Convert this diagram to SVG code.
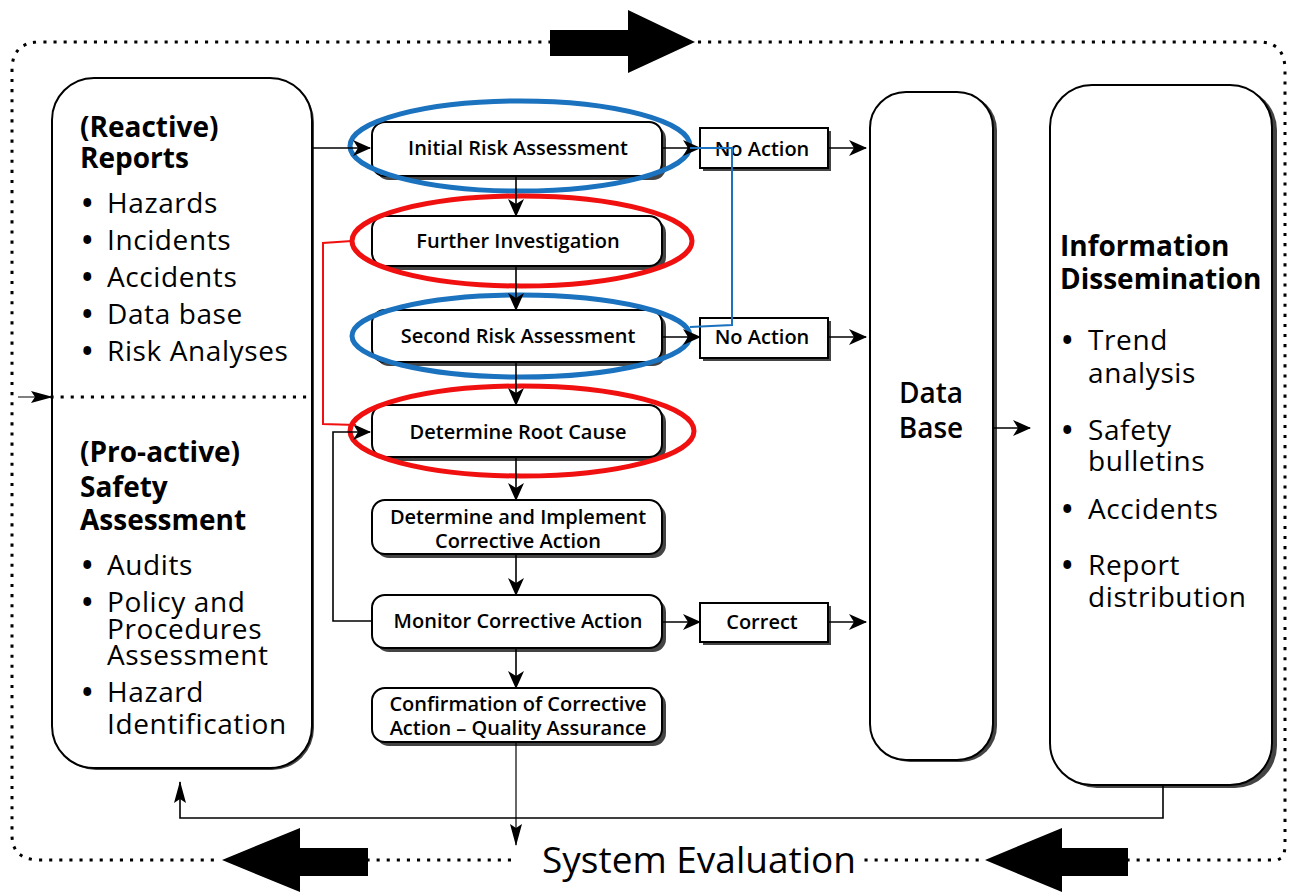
<svg xmlns="http://www.w3.org/2000/svg" width="1290" height="892" viewBox="0 0 1290 892">
<style>
text{font-family:"Open Sans","Liberation Sans",sans-serif;fill:#000}
.big{font-size:28px;letter-spacing:0.6px}
.bul{font-weight:700}
.bold{font-size:28px;font-weight:700}
.mid{font-size:20px;font-weight:600}
.box{fill:#fff;stroke:#000;stroke-width:2}
.shadow{fill:#444}
.line{fill:none;stroke:#000;stroke-width:1.6}
.thin{fill:none;stroke:#000;stroke-width:1.2}
.dots{fill:none;stroke:#000;stroke-width:3;stroke-dasharray:0.1 10;stroke-linecap:square}
.blue{fill:none;stroke:#1b72be;stroke-width:5}
.red{fill:none;stroke:#f01010;stroke-width:5}
.bline{fill:none;stroke:#1b72be;stroke-width:2}
.rline{fill:none;stroke:#f01010;stroke-width:2}
</style>
<defs>
<marker id="ah" viewBox="0 0 18 16" refX="17" refY="8" markerWidth="18" markerHeight="16" orient="auto" markerUnits="userSpaceOnUse">
<path d="M0,0 L18,8 L0,16 L5,8 z" fill="#000"/>
</marker>
<marker id="as" viewBox="0 0 22 12" refX="21" refY="6" markerWidth="22" markerHeight="12" orient="auto" markerUnits="userSpaceOnUse">
<path d="M0,0 L22,6 L0,12 L4,6 z" fill="#000"/>
</marker>
</defs>
<rect width="1290" height="892" fill="#fff"/>

<!-- outer dotted loop and big arrows -->
<g id="outer-loop">
<path class="dots" d="M550,42 H40 Q12,42 12,70 V835 Q12,860 40,860 H222"/>
<path class="dots" d="M368,860 H515"/>
<path class="dots" d="M866,860 H985"/>
<path class="dots" d="M1128,860 H1275 Q1285,860 1285,845 V70 Q1285,44 1262,42 H695"/>
<polygon points="550,30 628,30 628,10 695,42 628,73 628,56 550,56" fill="#000"/>
<polygon points="368,848 300,848 300,828 222,860 300,892 300,876 368,876" fill="#000"/>
<polygon points="1128,848 1062,848 1062,828 985,860 1062,892 1062,876 1128,876" fill="#000"/>
<text x="699" y="873" font-size="37" text-anchor="middle">System Evaluation</text>
</g>

<!-- left box -->
<g id="reports-box">
<rect x="54" y="80" width="260" height="690" rx="42" class="shadow"/>
<rect x="52" y="78" width="260" height="690" rx="42" class="box"/>
<line x1="52" y1="397" x2="312" y2="397" class="dots" stroke-width="2.5"/>
<text class="bold" x="80" y="137">(Reactive)<tspan x="80" y="168">Reports</tspan></text>
<text class="big" x="82" y="213"><tspan class="bul">•</tspan><tspan x="107">Hazards</tspan></text>
<text class="big" x="82" y="250"><tspan class="bul">•</tspan><tspan x="107">Incidents</tspan></text>
<text class="big" x="82" y="287"><tspan class="bul">•</tspan><tspan x="107">Accidents</tspan></text>
<text class="big" x="82" y="324"><tspan class="bul">•</tspan><tspan x="107">Data base</tspan></text>
<text class="big" x="82" y="361"><tspan class="bul">•</tspan><tspan x="107">Risk Analyses</tspan></text>
<text class="bold" x="80" y="462">(Pro-active)<tspan x="80" y="497">Safety</tspan><tspan x="80" y="530">Assessment</tspan></text>
<text class="big" x="82" y="575"><tspan class="bul">•</tspan><tspan x="107">Audits</tspan></text>
<text class="big" x="82" y="612"><tspan class="bul">•</tspan><tspan x="107">Policy and</tspan><tspan x="107" y="639">Procedures</tspan><tspan x="107" y="665">Assessment</tspan></text>
<text class="big" x="82" y="702"><tspan class="bul">•</tspan><tspan x="107">Hazard</tspan><tspan x="107" y="734">Identification</tspan></text>
</g>

<!-- middle flow nodes -->
<g id="initial-risk">
<rect x="376" y="126" width="290" height="54" rx="13" class="shadow"/>
<rect x="372" y="122" width="290" height="54" rx="13" class="box"/>
<text class="mid" x="518" y="155" text-anchor="middle">Initial Risk Assessment</text>
</g>
<g id="further-investigation">
<rect x="376" y="220" width="290" height="50" rx="13" class="shadow"/>
<rect x="372" y="216" width="290" height="50" rx="13" class="box"/>
<text class="mid" x="518" y="248" text-anchor="middle">Further Investigation</text>
</g>
<g id="second-risk">
<rect x="376" y="314" width="290" height="52" rx="13" class="shadow"/>
<rect x="372" y="310" width="290" height="52" rx="13" class="box"/>
<text class="mid" x="518" y="343" text-anchor="middle">Second Risk Assessment</text>
</g>
<g id="root-cause">
<rect x="376" y="409" width="290" height="52" rx="13" class="shadow"/>
<rect x="372" y="405" width="290" height="52" rx="13" class="box"/>
<text class="mid" x="518" y="439" text-anchor="middle">Determine Root Cause</text>
</g>
<g id="implement">
<rect x="376" y="504" width="290" height="54" rx="13" class="shadow"/>
<rect x="372" y="500" width="290" height="54" rx="13" class="box"/>
<text class="mid" x="518" y="524" text-anchor="middle">Determine and Implement<tspan x="518" y="548">Corrective Action</tspan></text>
</g>
<g id="monitor">
<rect x="376" y="599" width="290" height="53" rx="13" class="shadow"/>
<rect x="372" y="595" width="290" height="53" rx="13" class="box"/>
<text class="mid" x="518" y="628" text-anchor="middle">Monitor Corrective Action</text>
</g>
<g id="confirmation">
<rect x="376" y="692" width="290" height="54" rx="13" class="shadow"/>
<rect x="372" y="688" width="290" height="54" rx="13" class="box"/>
<text class="mid" x="518" y="711" text-anchor="middle">Confirmation of Corrective<tspan x="518" y="735">Action – Quality Assurance</tspan></text>
</g>

<!-- outcome boxes -->
<g id="no-action-1">
<rect x="703" y="131" width="128" height="40" class="shadow"/>
<rect x="700" y="128" width="128" height="40" class="box"/>
<text class="mid" x="762" y="156" text-anchor="middle">No Action</text>
</g>
<g id="no-action-2">
<rect x="703" y="321" width="128" height="40" class="shadow"/>
<rect x="700" y="318" width="128" height="40" class="box"/>
<text class="mid" x="762" y="344" text-anchor="middle">No Action</text>
</g>
<g id="correct">
<rect x="703" y="606" width="128" height="39" class="shadow"/>
<rect x="700" y="603" width="128" height="39" class="box"/>
<text class="mid" x="762" y="629" text-anchor="middle">Correct</text>
</g>

<!-- data base -->
<g id="data-base">
<rect x="874" y="94" width="123" height="668" rx="36" class="shadow"/>
<rect x="870" y="92" width="123" height="668" rx="36" class="box"/>
<text x="931" y="403" text-anchor="middle" font-size="28" font-weight="600">Data<tspan x="931" y="438">Base</tspan></text>
</g>

<!-- information dissemination -->
<g id="info-dissemination">
<rect x="1055" y="88" width="222" height="700" rx="42" class="shadow"/>
<rect x="1050" y="85" width="222" height="700" rx="42" class="box"/>
<text class="bold" x="1060" y="256">Information<tspan x="1060" y="289">Dissemination</tspan></text>
<text class="big" x="1062" y="350"><tspan class="bul">•</tspan><tspan x="1088">Trend</tspan><tspan x="1088" y="383">analysis</tspan></text>
<text class="big" x="1062" y="440"><tspan class="bul">•</tspan><tspan x="1088">Safety</tspan><tspan x="1088" y="471">bulletins</tspan></text>
<text class="big" x="1062" y="519"><tspan class="bul">•</tspan><tspan x="1088">Accidents</tspan></text>
<text class="big" x="1062" y="575"><tspan class="bul">•</tspan><tspan x="1088">Report</tspan><tspan x="1088" y="607">distribution</tspan></text>
</g>

<!-- highlight ellipses -->
<g id="highlights">
<ellipse cx="520" cy="146" rx="170" ry="45" class="blue"/>
<ellipse cx="522" cy="241" rx="170" ry="45" class="red"/>
<ellipse cx="521" cy="336" rx="169" ry="41" class="blue"/>
<ellipse cx="522" cy="431" rx="172" ry="45" class="red"/>
</g>

<!-- connectors -->
<g id="connectors">
<line x1="312" y1="148" x2="370" y2="148" class="line" marker-end="url(#ah)"/>
<line x1="18" y1="397" x2="52" y2="397" class="thin" marker-end="url(#as)"/>
<line x1="516" y1="176" x2="516" y2="216" class="line" marker-end="url(#ah)"/>
<line x1="516" y1="266" x2="516" y2="310" class="line" marker-end="url(#ah)"/>
<line x1="516" y1="362" x2="516" y2="405" class="line" marker-end="url(#ah)"/>
<line x1="516" y1="457" x2="516" y2="500" class="line" marker-end="url(#ah)"/>
<line x1="516" y1="554" x2="516" y2="595" class="line" marker-end="url(#ah)"/>
<line x1="516" y1="648" x2="516" y2="688" class="line" marker-end="url(#ah)"/>
<line x1="516" y1="742" x2="516" y2="845" class="thin" marker-end="url(#as)"/>
<line x1="662" y1="148" x2="700" y2="148" class="line" marker-end="url(#ah)"/>
<line x1="828" y1="148" x2="866" y2="148" class="line" marker-end="url(#ah)"/>
<line x1="662" y1="337" x2="700" y2="337" class="line" marker-end="url(#ah)"/>
<line x1="828" y1="337" x2="866" y2="337" class="line" marker-end="url(#ah)"/>
<line x1="662" y1="622" x2="700" y2="622" class="line" marker-end="url(#ah)"/>
<line x1="828" y1="622" x2="866" y2="622" class="line" marker-end="url(#ah)"/>
<line x1="993" y1="428" x2="1030" y2="428" class="line" marker-end="url(#ah)"/>
<polyline points="372,621 333,621 333,432 370,432" class="line" marker-end="url(#ah)"/>
<polyline points="1163,785 1163,818 180,818 180,782" class="line" marker-end="url(#as)"/>
<polyline points="352,241 323,243 323,424 356,425" class="rline"/>
<polyline points="690,148 732,148 732,325 690,327" class="bline"/>
</g>
</svg>
